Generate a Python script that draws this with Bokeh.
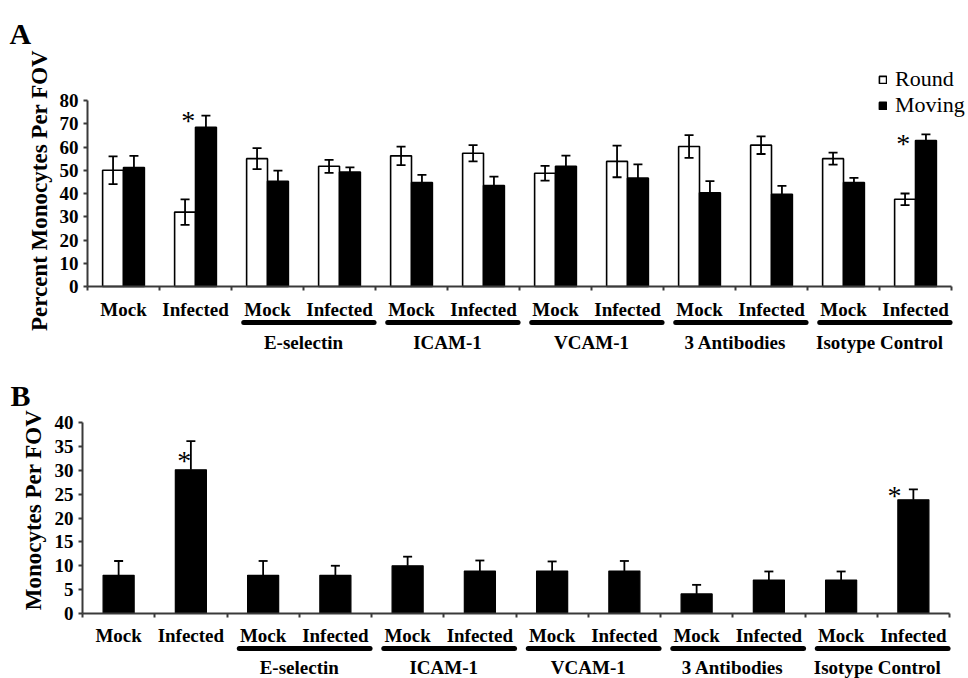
import math
from bokeh.plotting import figure
from bokeh.models import (Range1d, LinearAxis, FixedTicker, ColumnDataSource,
                          Whisker, TeeHead, Legend, LegendItem)
from bokeh.layouts import column
from bokeh.embed import file_html
from bokeh.resources import INLINE
from bokeh.core.properties import value

# ---------------- data ----------------
conditions = ["Mock", "Infected"] * 6
group_names = ["E-selectin", "ICAM-1", "VCAM-1", "3 Antibodies", "Isotype Control"]
group_first_cat = [2, 4, 6, 8, 10]

a_yticks = list(range(0, 81, 10))
a_round = [50, 32, 55, 51.7, 56.2, 57.3, 48.7, 53.8, 60.2, 60.8, 55, 37.5]
a_round_err = [6, 5.5, 4.5, 2.8, 4, 3.5, 3.2, 6.8, 4.9, 3.8, 2.6, 2.5]
a_moving = [51.2, 68.5, 45.3, 49.2, 44.7, 43.4, 51.7, 46.6, 40.3, 39.7, 44.7, 62.8]
a_moving_err = [5, 5, 4.5, 2, 3.3, 3.9, 4.6, 5.9, 5, 3.6, 2, 2.6]
a_star_x = [1.40, 11.33]
a_star_y = [72.7, 62.8]

b_yticks = list(range(0, 41, 5))
b_counts = [8, 30.1, 8, 8, 10, 8.9, 8.9, 8.9, 4.1, 7, 7, 23.8]
b_err = [3, 6, 3, 2, 1.9, 2.2, 2, 2.1, 1.9, 1.8, 1.8, 2.2]
b_star_x = [1.41, 11.24]
b_star_y = [32.7, 25.5]

series_labels = ["Round", "Moving"]

# ---------------- style ----------------
FONT = "Liberation Serif"
W = 968
AXIS_COLOR = "#3a3a3a"


def make_panel(height, ax_left, cat_px, ax_bot, unit_px, yticks, ylabel, letter,
               letter_x_px, letter_base_px, ylabel_px, ylabel_cy_px,
               off_mock, off_ul, off_group):
    n = len(conditions)
    p = figure(width=W, height=height,
               x_range=Range1d(-ax_left / cat_px, (W - ax_left) / cat_px),
               y_range=Range1d(-(height - ax_bot) / unit_px, ax_bot / unit_px),
               x_axis_type=None, y_axis_type=None,
               toolbar_location=None, output_backend="svg", min_border=0,
               outline_line_color=None, background_fill_color="white",
               border_fill_color="white")
    p.title.visible = False

    def dy(px):
        return px / unit_px

    # y axis
    ya = LinearAxis(fixed_location=0, bounds=(yticks[0], yticks[-1]),
                    ticker=FixedTicker(ticks=yticks))
    ya.axis_line_color = AXIS_COLOR
    ya.axis_line_width = 2
    ya.major_tick_line_color = AXIS_COLOR
    ya.major_tick_line_width = 2
    ya.major_tick_out = 4
    ya.major_tick_in = 0
    ya.minor_tick_line_color = None
    ya.major_label_text_font = FONT
    ya.major_label_text_font_style = "bold"
    ya.major_label_text_font_size = "19px"
    ya.major_label_text_color = "black"
    ya.major_label_standoff = 5
    p.add_layout(ya, "left")

    # x axis line with boundary ticks
    xa = LinearAxis(fixed_location=0, bounds=(0, n),
                    ticker=FixedTicker(ticks=list(range(n + 1))))
    xa.major_label_overrides = {i: "" for i in range(n + 1)}
    xa.axis_line_color = AXIS_COLOR
    xa.axis_line_width = 2
    xa.major_tick_line_color = AXIS_COLOR
    xa.major_tick_line_width = 2
    xa.major_tick_out = 4
    xa.major_tick_in = 0
    xa.minor_tick_line_color = None
    p.add_layout(xa, "below")

    centers = [i + 0.5 for i in range(n)]
    # category labels
    la = LinearAxis(fixed_location=0, ticker=FixedTicker(ticks=centers))
    la.major_label_overrides = {c: t for c, t in zip(centers, conditions)}
    la.axis_line_color = None
    la.major_tick_line_color = None
    la.minor_tick_line_color = None
    la.major_tick_out = 0
    la.major_tick_in = 0
    la.major_label_standoff = off_mock
    la.major_label_text_font = FONT
    la.major_label_text_font_style = "bold"
    la.major_label_text_font_size = "19px"
    la.major_label_text_color = "black"
    p.add_layout(la, "below")

    # group labels
    gc = [g + 1 for g in group_first_cat]
    ga = LinearAxis(fixed_location=0, ticker=FixedTicker(ticks=gc))
    ga.major_label_overrides = {c: t for c, t in zip(gc, group_names)}
    ga.axis_line_color = None
    ga.major_tick_line_color = None
    ga.minor_tick_line_color = None
    ga.major_tick_out = 0
    ga.major_tick_in = 0
    ga.major_label_standoff = off_group
    ga.major_label_text_font = FONT
    ga.major_label_text_font_style = "bold"
    ga.major_label_text_font_size = "19px"
    ga.major_label_text_color = "black"
    p.add_layout(ga, "below")

    # underlines
    ul_y = -dy(off_ul)
    p.segment(x0=[g + 0.17 for g in group_first_cat], x1=[g + 1.98 for g in group_first_cat],
              y0=[ul_y] * len(group_first_cat), y1=[ul_y] * len(group_first_cat),
              line_color="black", line_width=5, line_cap="round")

    # y-axis title
    p.text(x=[-ylabel_px / cat_px], y=[(ax_bot - ylabel_cy_px) / unit_px], text=[ylabel],
           angle=math.pi / 2, text_font=value(FONT), text_font_style="bold",
           text_font_size="23px", text_align="center", text_baseline="middle",
           text_color="black")

    # panel letter
    p.text(x=[(letter_x_px - ax_left) / cat_px], y=[(ax_bot - letter_base_px) / unit_px],
           text=[letter], text_font=value(FONT), text_font_style="bold",
           text_font_size="30px", text_align="left", text_baseline="alphabetic",
           text_color="black")
    return p, centers, dy


# ---------------- panel A ----------------
pA, centers, dyA = make_panel(height=354, ax_left=87, cat_px=72, ax_bot=286, unit_px=2.325,
                              yticks=a_yticks, ylabel="Percent Monocytes Per FOV", letter="A",
                              letter_x_px=9, letter_base_px=33, ylabel_px=48.5,
                              ylabel_cy_px=190, off_mock=12, off_ul=36, off_group=45)
half = 0.145
srcA = ColumnDataSource(dict(
    xr=[c - half for c in centers], xm=[c + half for c in centers],
    r=a_round, m=a_moving,
    r_hi=[v + e for v, e in zip(a_round, a_round_err)],
    r_lo=[v - e for v, e in zip(a_round, a_round_err)],
    m_hi=[v + e for v, e in zip(a_moving, a_moving_err)],
    m_lo=[v - e for v, e in zip(a_moving, a_moving_err)],
))
r_round = pA.vbar(x="xr", top="r", bottom=0, width=2 * half, source=srcA,
                  fill_color="white", line_color="black", line_width=1.6)
r_mov = pA.vbar(x="xm", top="m", bottom=0, width=2 * half, source=srcA,
                fill_color="black", line_color="black", line_width=1.6)
for base, up, lo in (("xr", "r_hi", "r_lo"), ("xm", "m_hi", "m_lo")):
    pA.add_layout(Whisker(source=srcA, base=base, upper=up, lower=lo, dimension="height",
                          line_color="black", line_width=1.8, level="overlay",
                          upper_head=TeeHead(size=9, line_width=1.8, line_color="black"),
                          lower_head=TeeHead(size=9, line_width=1.8, line_color="black")))
pA.text(x=a_star_x, y=[v - dyA(3.5) for v in a_star_y], text=["*"] * len(a_star_x),
        text_font=value(FONT), text_font_size="28px", text_align="center",
        text_baseline="middle", text_color="black")
legA = Legend(items=[LegendItem(label=series_labels[0], renderers=[r_round]),
                     LegendItem(label=series_labels[1], renderers=[r_mov])],
              location=(878, 236), orientation="vertical",
              background_fill_alpha=0, border_line_color=None, padding=0, margin=0,
              spacing=-3, label_text_font=FONT, label_text_font_size="22px",
              label_text_line_height=1.0,
              label_text_color="black", glyph_width=9, glyph_height=9,
              label_standoff=8, label_height=22)
pA.add_layout(legA)

# ---------------- panel B ----------------
pB, centersB, dyB = make_panel(height=324, ax_left=82, cat_px=72.25, ax_bot=259, unit_px=4.775,
                               yticks=b_yticks, ylabel="Monocytes Per FOV", letter="B",
                               letter_x_px=10, letter_base_px=41, ylabel_px=49.5,
                               ylabel_cy_px=155.5, off_mock=11, off_ul=35, off_group=43)
srcB = ColumnDataSource(dict(
    x=centersB, v=b_counts,
    hi=[v + e for v, e in zip(b_counts, b_err)],
))
pB.vbar(x="x", top="v", bottom=0, width=0.43, source=srcB,
        fill_color="black", line_color="black", line_width=1.2)
pB.add_layout(Whisker(source=srcB, base="x", upper="hi", lower="v", dimension="height",
                      line_color="black", line_width=1.8, level="overlay",
                      upper_head=TeeHead(size=9, line_width=1.8, line_color="black"),
                      lower_head=None))
pB.text(x=b_star_x, y=[v - dyB(3.5) for v in b_star_y], text=["*"] * len(b_star_x),
        text_font=value(FONT), text_font_size="28px", text_align="center",
        text_baseline="middle", text_color="black")

layout = column(pA, pB, spacing=0)
open("out.html", "w").write(file_html(layout, INLINE))
